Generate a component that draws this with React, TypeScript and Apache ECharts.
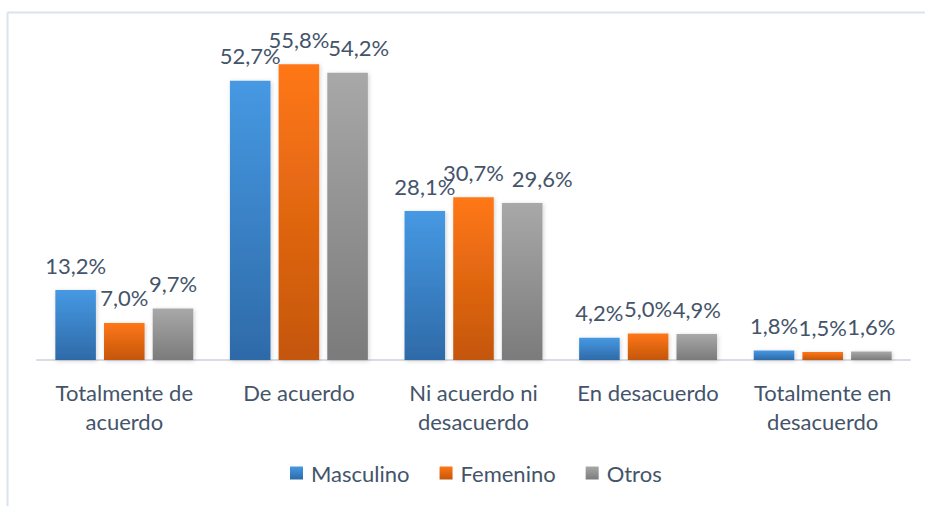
import React, { useEffect, useRef } from "react";
import * as echarts from "echarts";

const categories = [
  "Totalmente de\nacuerdo",
  "De acuerdo",
  "Ni acuerdo ni\ndesacuerdo",
  "En desacuerdo",
  "Totalmente en\ndesacuerdo",
];
const masculino = [13.2, 52.7, 28.1, 4.2, 1.8];
const femenino = [7.0, 55.8, 30.7, 5.0, 1.5];
const otros = [9.7, 54.2, 29.6, 4.9, 1.6];
const seriesNames = ["Masculino", "Femenino", "Otros"];

const TEXT = "#44546a";
const FONT = "Lato, 'Open Sans', sans-serif";
const FS = 22;

function grad(top: string, bottom: string) {
  return new echarts.graphic.LinearGradient(0, 0, 0, 1, [
    { offset: 0, color: top },
    { offset: 1, color: bottom },
  ]);
}

export default function App() {
  const ref = useRef<HTMLDivElement>(null);
  useEffect(() => {
    if (!ref.current) return;
    const chart = echarts.init(ref.current, undefined, { renderer: "svg" });
    const colors = [
      grad("#4699e3", "#2e6aa8"),
      grad("#ff7716", "#c4560c"),
      grad("#a8a8a8", "#7b7b7b"),
    ];
    const datasets = [masculino, femenino, otros];
    // horizontal nudges of the "Otros" labels (as in the reference, to avoid overlap)
    const labelShift: number[][] = [
      [0, 0, 0, 0, 0],
      [0, 0, 0, 0, 0],
      [0, 11, 20, 0, 0],
    ];
    chart.setOption({
      animation: false,
      textStyle: { fontFamily: FONT },
      graphic: [
        {
          type: "line",
          shape: { x1: 7.5, y1: 12.5, x2: 925, y2: 12.5 },
          style: { stroke: "#dde3ea", lineWidth: 2 },
        },
        {
          type: "line",
          shape: { x1: 7.5, y1: 12.5, x2: 7.5, y2: 506 },
          style: { stroke: "#dde3ea", lineWidth: 2 },
        },
      ],
      grid: { left: 37, right: 15, top: 42, bottom: 146, containLabel: false },
      legend: {
        left: 285,
        top: 457,
        itemWidth: 13,
        itemHeight: 13,
        itemGap: 30,
        icon: "rect",
        textStyle: { color: TEXT, fontSize: FS, fontFamily: FONT, padding: [0, 0, 0, 3] },
        data: seriesNames,
      },
      xAxis: {
        type: "category",
        data: categories,
        axisLine: { lineStyle: { color: "#d9dde3", width: 2 } },
        axisTick: { show: false },
        axisLabel: {
          color: TEXT,
          fontSize: FS,
          fontFamily: FONT,
          lineHeight: 29,
          margin: 18,
          interval: 0,
        },
      },
      yAxis: {
        type: "value",
        min: 0,
        max: 60,
        show: false,
        splitLine: { show: false },
      },
      series: seriesNames.map((name, i) => ({
        name,
        type: "bar",
        data: datasets[i].map((v, j) => ({
          value: v,
          label: { offset: [labelShift[i][j], 0] },
        })),
        barGap: "20%",
        barCategoryGap: "21%",
        itemStyle: {
          color: colors[i],
          shadowColor: "rgba(0,0,0,0.18)",
          shadowBlur: 4,
          shadowOffsetX: 1,
          shadowOffsetY: 1,
        },
        label: {
          show: true,
          position: "top",
          distance: 14,
          color: TEXT,
          fontSize: FS,
          fontFamily: FONT,
          formatter: (p: any) => p.value.toFixed(1).replace(".", ",") + "%",
        },
      })),
    });
    return () => chart.dispose();
  }, []);
  return (
    <div
      ref={ref}
      style={{ position: "absolute", left: 0, top: 0, width: 925, height: 506, background: "#fff" }}
    />
  );
}
